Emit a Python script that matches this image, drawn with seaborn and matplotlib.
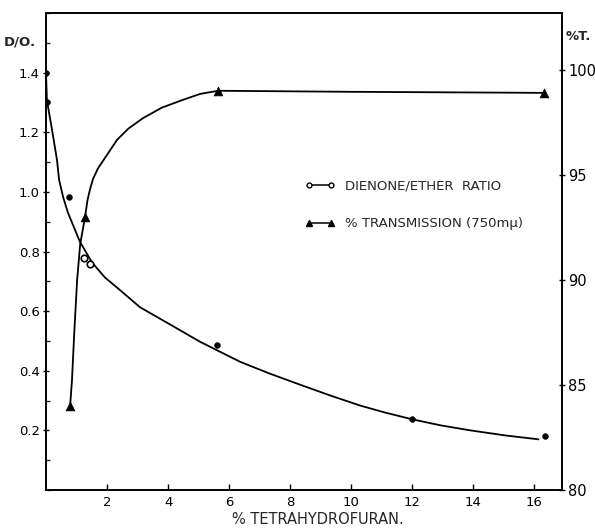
import numpy as np
import matplotlib
matplotlib.use("Agg")
import matplotlib.pyplot as plt
import seaborn as sns
import pandas as pd
from matplotlib.lines import Line2D
from matplotlib.ticker import MultipleLocator

sns.set_theme(style="white")
plt.rcParams['font.family'] = ['DejaVu Sans']

# measured points, dienone/ether ratio (D/O.)
dien_x = [0.0, 0.02, 0.75, 1.25, 1.44, 5.6, 12.0, 16.35]
dien_y = [1.40, 1.30, 0.983, 0.777, 0.757, 0.487, 0.237, 0.18]
dien_open = [False, False, False, True, True, False, False, False]

# hand drawn curve through the ratio points
dien_curve_x = [0.0, 0.03, 0.2, 0.36, 0.43, 0.56, 0.72, 1.11, 1.51, 1.93, 2.43, 3.08, 4.07,
                5.05, 6.36, 7.34, 8.33, 9.31, 10.3, 11.1, 12.0, 12.92, 13.9, 15.05, 16.13]
dien_curve_y = [1.40, 1.307, 1.207, 1.107, 1.04, 0.983, 0.93, 0.833, 0.763, 0.713, 0.67, 0.613,
                0.555, 0.497, 0.43, 0.39, 0.353, 0.317, 0.283, 0.26, 0.237, 0.217, 0.20,
                0.183, 0.17]

# measured points, % transmission (750 mu)
trans_x = [0.79, 1.28, 5.64, 16.3]
trans_y = [84.0, 93.0, 99.0, 98.9]

trans_curve_x = [0.79, 0.85, 0.93, 1.02, 1.12, 1.28, 1.36, 1.44, 1.54, 1.7, 1.93, 2.33,
                 2.7, 3.18, 3.8, 4.49, 5.05, 5.64, 10.0, 16.3]
trans_curve_y = [84.0, 85.2, 87.6, 90.0, 91.7, 93.0, 93.8, 94.3, 94.8, 95.3, 95.8, 96.67,
                 97.2, 97.7, 98.2, 98.57, 98.85, 99.0, 98.95, 98.9]

fig = plt.figure(figsize=(5.95, 5.29), dpi=100)
ax = fig.add_axes([0.0773, 0.0737, 0.8672, 0.9017])
ax2 = ax.twinx()

df_dc = pd.DataFrame({"x": dien_curve_x, "y": dien_curve_y})
df_d = pd.DataFrame({"x": dien_x, "y": dien_y, "open": dien_open})
df_tc = pd.DataFrame({"x": trans_curve_x, "y": trans_curve_y})
df_t = pd.DataFrame({"x": trans_x, "y": trans_y})

sns.lineplot(data=df_dc, x="x", y="y", ax=ax, color="black", linewidth=1.3, sort=False)
filled = df_d[~df_d["open"]]
hollow = df_d[df_d["open"]]
sns.scatterplot(data=filled, x="x", y="y", ax=ax, color="black", s=18, marker="o",
                edgecolor="black", zorder=5)
sns.scatterplot(data=hollow, x="x", y="y", ax=ax, facecolor="white", s=22, marker="o",
                edgecolor="black", linewidth=1.2, zorder=5)

sns.lineplot(data=df_tc, x="x", y="y", ax=ax2, color="black", linewidth=1.3, sort=False)
sns.scatterplot(data=df_t, x="x", y="y", ax=ax2, color="black", s=40, marker="^",
                edgecolor="black", zorder=5)

ax.set_xlim(0, 16.9)
ax.set_ylim(0, 1.6)
ax2.set_ylim(80, 102.7)

ax.set_xticks([2, 4, 6, 8, 10, 12, 14, 16])
ax.set_yticks([0.2, 0.4, 0.6, 0.8, 1.0, 1.2, 1.4])
ax.set_yticklabels(["0.2", "0.4", "0.6", "0.8", "1.0", "1.2", "1.4"])
ax.yaxis.set_minor_locator(MultipleLocator(0.1))
ax2.set_yticks([80, 85, 90, 95, 100])

for a in (ax, ax2):
    a.set_xlabel("")
    a.set_ylabel("")
    for s in a.spines.values():
        s.set_color("black")
        s.set_linewidth(1.2)

ax.tick_params(axis="x", direction="in", length=4, width=1, pad=4, labelsize=9.5,
               colors="black", bottom=True)
ax.tick_params(axis="y", which="major", direction="inout", length=5, width=1, pad=2,
               labelsize=9.5, colors="black", left=True)
ax.tick_params(axis="y", which="minor", direction="in", length=3, width=1, left=True)
ax2.tick_params(axis="y", direction="inout", length=5, width=1, pad=2, labelsize=10.5,
                colors="black", right=True)

fig.text(20 / 595, 1 - 42 / 529, "D/O.", ha="center", va="center", fontsize=9.5, weight="bold")
fig.text(578 / 595, 1 - 36 / 529, "%T.", ha="center", va="center", fontsize=9.5, weight="bold")
fig.text(318 / 595, 1 - 520 / 529, "% TETRAHYDROFURAN.", ha="center",
         va="center", fontsize=10.5)

handles = [
    Line2D([0], [0], color="black", linewidth=1.1, marker="o", markersize=3.5,
           markerfacecolor="white", markeredgecolor="black"),
    Line2D([0], [0], color="black", linewidth=1.1, marker="^", markersize=5,
           markerfacecolor="black", markeredgecolor="black"),
]
labels = ["DIENONE/ETHER  RATIO", "% TRANSMISSION (750m\u03bc)"]
ax.legend(handles, labels, loc="upper left", bbox_to_anchor=(0.48, 0.675), frameon=False,
          numpoints=2, handlelength=2.2, handletextpad=0.8, labelspacing=1.85, fontsize=9.5)

fig.savefig("out.png", dpi=100)
